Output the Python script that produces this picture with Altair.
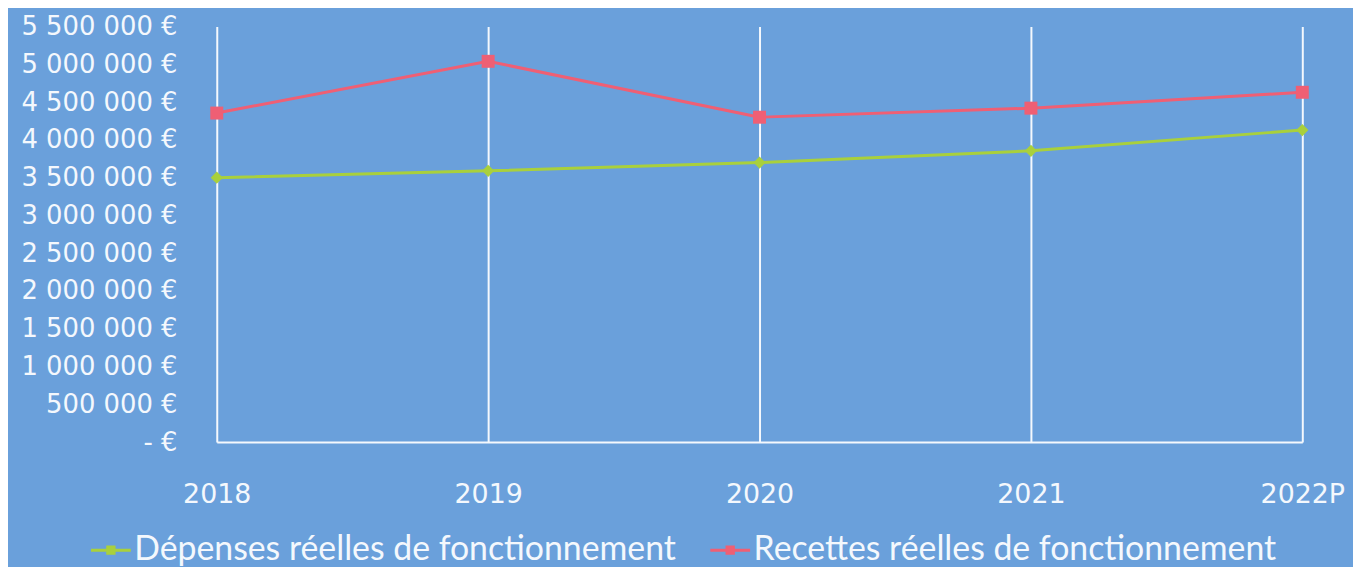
import altair as alt
import pandas as pd

years = ["2018", "2019", "2020", "2021", "2022P"]
series_names = ["Dépenses réelles de fonctionnement", "Recettes réelles de fonctionnement"]
depenses = [3500000, 3590000, 3700000, 3855000, 4130000]
recettes = [4355000, 5040000, 4300000, 4420000, 4630000]
y_ticks = [0, 500000, 1000000, 1500000, 2000000, 2500000, 3000000, 3500000, 4000000, 4500000, 5000000, 5500000]

rows = []
for y, d, r in zip(years, depenses, recettes):
    rows.append({"annee": y, "serie": series_names[0], "valeur": d})
    rows.append({"annee": y, "serie": series_names[1], "valeur": r})
df = pd.DataFrame(rows)

BG = "#6aa0db"
GREEN = "#a9d03c"
RED = "#ef5f74"
WHITE = "#f4f8fd"
FONT = "Lato"
AXFONT = "DejaVu Sans"

x_enc = alt.X("annee:N", sort=years, scale=alt.Scale(type="point", padding=0),
              axis=alt.Axis(title=None, labelAngle=0, labelFontSize=27, labelColor=WHITE,
                            labelFont=AXFONT, labelPadding=40, ticks=False, domain=True,
                            domainColor=WHITE, domainWidth=2, grid=True, gridColor=WHITE,
                            gridWidth=2, gridOpacity=1))
y_enc = alt.Y("valeur:Q", scale=alt.Scale(domain=[0, 5500000], nice=False),
              axis=alt.Axis(title=None, values=y_ticks, grid=False, domain=False, ticks=False,
                            labelFontSize=26, labelColor=WHITE, labelFont=AXFONT, labelPadding=40,
                            labelExpr="datum.value == 0 ? '-   €' : replace(format(datum.value, ',.0f'), /,/g, ' ') + ' €'"))

color_scale = alt.Scale(domain=series_names, range=[GREEN, RED])

# legend symbol: a short line with a small filled marker (nested squares so the stroke fills it)
sym = ("M-1,0L1,0"
       "M-0.16,-0.16L0.16,-0.16L0.16,0.16L-0.16,0.16Z"
       "M-0.09,-0.09L0.09,-0.09L0.09,0.09L-0.09,0.09Z"
       "M-0.03,-0.03L0.03,-0.03L0.03,0.03L-0.03,0.03Z")

legend = alt.Legend(
    title=None, orient="none", direction="horizontal", legendX=-128, legendY=505,
    labelFontSize=34, labelColor=WHITE, labelFont=FONT, labelLimit=700,
    symbolType=sym, symbolSize=1600, symbolStrokeWidth=3, columnPadding=27, labelOffset=2,
)

lines = alt.Chart(df).mark_line(strokeWidth=3).encode(
    x=x_enc, y=y_enc,
    color=alt.Color("serie:N", scale=color_scale, legend=legend),
)
pts_dep = alt.Chart(df).transform_filter(alt.datum.serie == series_names[0]).mark_point(
    filled=True, opacity=1, size=150, shape="diamond", color=GREEN).encode(x=x_enc, y=y_enc)
pts_rec = alt.Chart(df).transform_filter(alt.datum.serie == series_names[1]).mark_point(
    filled=True, opacity=1, size=170, shape="square", color=RED).encode(x=x_enc, y=y_enc)

chart = alt.layer(lines, pts_dep, pts_rec).properties(
    width=1092, height=418, background=BG,
    autosize=alt.AutoSizeParams(type="none"),
    padding={"left": 210, "top": 17, "right": 51, "bottom": 124},
).configure_view(stroke=None, fill=BG)

chart.save("out.html", embed_options={"renderer": "svg", "actions": False})
